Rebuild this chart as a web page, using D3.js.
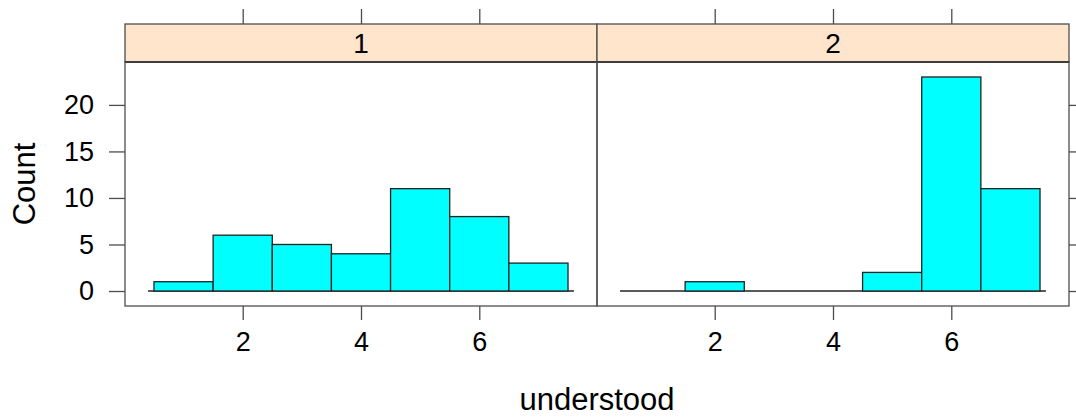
<!DOCTYPE html>
<html>
<head>
<meta charset="utf-8">
<script src="https://cdn.jsdelivr.net/npm/d3@7"></script>
<style>
	body { margin: 0; background: #fff; }
	svg { font-family: 'Liberation Sans', Arial, sans-serif; }
</style>
</head>
<body>
<svg width="1076" height="420"></svg>
<script>
// bins are centred on whole numbers 1..7
const bins = [1, 2, 3, 4, 5, 6, 7]
const panels = ['1', '2']
const counts1 = [1, 6, 5, 4, 11, 8, 3]
const counts2 = [0, 1, 0, 0, 2, 23, 11]
const xTicks = [2, 4, 6]
const yTicks = [0, 5, 10, 15, 20]
const xLabel = 'understood'
const yLabel = 'Count'

const series = [counts1, counts2]

const width = 1076,
	left = 125,
	panelW = 472,
	stripTop = 24,
	stripBottom = 62,
	panelBottom = 306,
	border = '#4d4d4d'

const svg = d3.select('svg')

// lattice pads the data range by 7% on both ends
const lo = d3.min(bins) - 0.5,
	hi = d3.max(bins) + 0.5,
	padX = (hi - lo) * 0.07
const yMax = d3.max(series.flat())
const padY = yMax * 0.07

const y = d3
	.scaleLinear()
	.domain([-padY, yMax + padY])
	.range([panelBottom, stripBottom])

panels.forEach((name, i) => {
	const x0 = left + i * panelW
	const x = d3
		.scaleLinear()
		.domain([lo - padX, hi + padX])
		.range([x0, x0 + panelW])

	const g = svg.append('g')

	// strip
	g.append('rect')
		.attr('x', x0)
		.attr('y', stripTop)
		.attr('width', panelW)
		.attr('height', stripBottom - stripTop)
		.attr('fill', '#ffe5cc')
		.attr('stroke', border)
		.attr('stroke-width', 1.3)
	g.append('line')
		.attr('x1', x0).attr('x2', x0 + panelW)
		.attr('y1', stripBottom).attr('y2', stripBottom)
		.attr('stroke', '#000')
		.attr('stroke-width', 1.3)
	g.append('text')
		.attr('x', x0 + panelW / 2)
		.attr('y', (stripTop + stripBottom) / 2)
		.attr('dy', '.37em')
		.attr('text-anchor', 'middle')
		.attr('font-size', 28)
		.text(name)

	// baseline drawn a little wider than the bins
	g.append('line')
		.attr('x1', x(lo - 0.1)).attr('x2', x(hi + 0.1))
		.attr('y1', y(0)).attr('y2', y(0))
		.attr('stroke', '#222')
		.attr('stroke-width', 1.3)

	g.selectAll('rect.bar')
		.data(series[i])
		.enter()
		.append('rect')
		.attr('class', 'bar')
		.attr('x', (d, j) => x(bins[j] - 0.5))
		.attr('width', (d, j) => x(bins[j] + 0.5) - x(bins[j] - 0.5))
		.attr('y', d => y(d))
		.attr('height', d => y(0) - y(d))
		.attr('fill', '#00ffff')
		.attr('stroke', '#222')
		.attr('stroke-width', 1.3)

	// panel frame
	g.append('rect')
		.attr('x', x0)
		.attr('y', stripBottom)
		.attr('width', panelW)
		.attr('height', panelBottom - stripBottom)
		.attr('fill', 'none')
		.attr('stroke', border)
		.attr('stroke-width', 1.3)

	// bottom axis with labels
	const bottom = g.append('g')
		.attr('transform', 'translate(0,' + panelBottom + ')')
		.call(d3.axisBottom(x).tickValues(xTicks).tickSize(14).tickPadding(12).tickFormat(d3.format('d')))
	// top axis, ticks only
	const top = g.append('g')
		.attr('transform', 'translate(0,' + stripTop + ')')
		.call(d3.axisTop(x).tickValues(xTicks).tickSize(15).tickFormat(''))
	;[bottom, top].forEach(a => {
		a.select('.domain').remove()
		a.selectAll('line').attr('stroke', border).attr('stroke-width', 1.3)
		a.selectAll('text').attr('font-size', 27).attr('fill', '#000').attr('font-family', null)
	})

	if (i === 0) {
		const ya = g.append('g')
			.attr('transform', 'translate(' + x0 + ',0)')
			.call(d3.axisLeft(y).tickValues(yTicks).tickSize(16).tickPadding(15))
		ya.select('.domain').remove()
		ya.selectAll('line').attr('stroke', border).attr('stroke-width', 1.3)
		ya.selectAll('text').attr('font-size', 27).attr('fill', '#000').attr('font-family', null)
	} else {
		const ya = g.append('g')
			.attr('transform', 'translate(' + (x0 + panelW) + ',0)')
			.call(d3.axisRight(y).tickValues(yTicks).tickSize(14).tickFormat(''))
		ya.select('.domain').remove()
		ya.selectAll('line').attr('stroke', border).attr('stroke-width', 1.3)
	}
})

svg.append('text')
	.attr('x', left + panelW)
	.attr('y', 410)
	.attr('text-anchor', 'middle')
	.attr('font-size', 31)
	.text(xLabel)

svg.append('text')
	.attr('transform', 'translate(35,' + (stripBottom + panelBottom) / 2 + ') rotate(-90)')
	.attr('text-anchor', 'middle')
	.attr('font-size', 31)
	.text(yLabel)
</script>
</body>
</html>
